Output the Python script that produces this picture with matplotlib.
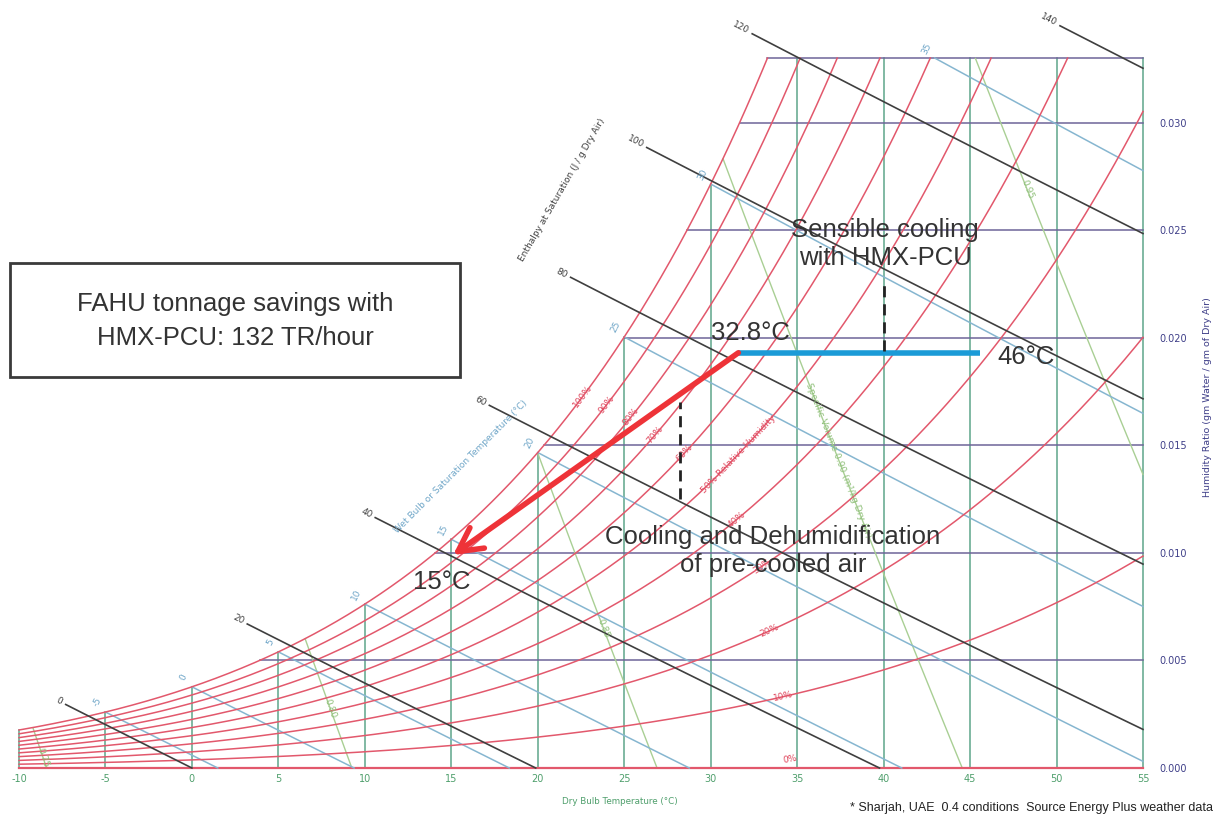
import numpy as np
import matplotlib
matplotlib.use("Agg")
import matplotlib.pyplot as plt
from matplotlib.patches import Rectangle

# ---------------- chart data ----------------
dry_bulb_ticks = [-10, -5, 0, 5, 10, 15, 20, 25, 30, 35, 40, 45, 50, 55]
humidity_ticks = [0.000, 0.005, 0.010, 0.015, 0.020, 0.025, 0.030]
humidity_top = 0.033
rh_levels = [0.1, 0.2, 0.3, 0.4, 0.5, 0.6, 0.7, 0.8, 0.9, 1.0]
rh_labels = ["10%", "20%", "30%", "40%", "50% Relative Humidity",
             "60%", "70%", "80%", "90%", "100%"]
enthalpy_levels = [0, 20, 40, 60, 80, 100, 120, 140]
wet_bulb_levels = [-5, 0, 5, 10, 15, 20, 25, 30, 35]
volume_levels = [0.75, 0.80, 0.85, 0.90, 0.95]
volume_labels = ["0.75", "0.80", "0.85",
                 "Specific Volume 0.90 (m\u00b3/kg Dry Air)", "0.95"]

# process lines
sensible_T = [45.6, 31.6]
sensible_W = [0.0193, 0.0193]
coil_T = [31.6, 15.1]
coil_W = [0.0193, 0.0099]
dash1_T = [40.0, 40.0]
dash1_W = [0.0194, 0.0227]
dash2_T = [28.2, 28.2]
dash2_W = [0.0125, 0.0170]

# ---------------- layout (label placement) ----------------
enthalpy_start_T = [-7.3, 3.2, 10.6, 17.2, 21.9, 26.3, 32.4, 50.2]
rh_label_T = [34.2, 33.4, 33.0, 31.5, 31.6, 28.5, 26.8, 25.4, 24.0, 22.6]
volume_label_T = [-8.6, 8.0, 23.8, 37.4, 48.3]

# ---------------- psychrometrics ----------------
P = 101.325


def psat(T):
    T = np.asarray(T, dtype=float)
    return 0.61094 * np.exp(17.625 * T / (T + 243.04))


def w_rh(T, rh):
    pv = rh * psat(T)
    return 0.622 * pv / (P - pv)


def w_sat(T):
    return w_rh(T, 1.0)


def w_h(T, h):
    return (h - 1.006 * T) / (2501 + 1.86 * T)


def w_wb(T, twb):
    ws = w_sat(twb)
    return ((2501 - 2.326 * twb) * ws - 1.006 * (T - twb)) / (2501 + 1.86 * T - 4.186 * twb)


def w_v(T, v):
    return (v * P / (0.287042 * (T + 273.15)) - 1) / 1.6078


Tgrid = np.linspace(-10, 55, 4000)
Wsat_grid = w_sat(Tgrid)


def t_sat_of_w(W):
    return float(np.interp(W, Wsat_grid, Tgrid))


# ---------------- colours ----------------
C_RH = "#e2586c"
C_DB = "#5ea68a"
C_HUM = "#6e6499"
C_H = "#3f3f3f"
C_WB = "#86b6d0"
C_V = "#a9cf94"
C_TXT = "#333333"

fig = plt.figure(figsize=(12.2, 8.21), dpi=100)
fig.patch.set_facecolor("white")
ax = fig.add_axes([19 / 1220, 53 / 821, 1124 / 1220, 710 / 821])
ax.set_xlim(-10, 55)
ax.set_ylim(0, humidity_top)
for s in ax.spines.values():
    s.set_visible(False)
ax.set_xticks(dry_bulb_ticks)
ax.set_xticklabels([str(t) for t in dry_bulb_ticks])
ax.yaxis.tick_right()
ax.set_yticks(humidity_ticks)
ax.set_yticklabels(["%.3f" % w for w in humidity_ticks])
ax.tick_params(axis="x", length=0, pad=4, labelsize=7, labelcolor="#4f9f6c")
ax.tick_params(axis="y", length=0, pad=12, labelsize=7, labelcolor="#3e3e88")

CH = dict(family="DejaVu Sans")


def angle_of(T, W):
    p = ax.transData.transform(np.column_stack([T, W]))
    d = p[-1] - p[0]
    return np.degrees(np.arctan2(d[1], d[0]))


# dry bulb verticals
for t in dry_bulb_ticks:
    top = min(float(w_sat(t)), humidity_top)
    ax.plot([t, t], [0, top], color=C_DB, lw=1.1, clip_on=False, zorder=2)

# humidity horizontals
for w in humidity_ticks[1:] + [humidity_top]:
    ax.plot([t_sat_of_w(w), 55], [w, w], color=C_HUM, lw=1.1, clip_on=False, zorder=2)
ax.plot([-10, 55], [0, 0], color=C_RH, lw=1.6, clip_on=False, zorder=3)

# specific volume lines
for v, lab, lt in zip(volume_levels, volume_labels, volume_label_T):
    f = w_v(Tgrid, v) - np.minimum(Wsat_grid, humidity_top)
    idx = np.argmax(f <= 0)
    t0 = Tgrid[idx]
    t1 = min(v * P / 0.287042 - 273.15, 55)
    T = np.linspace(t0, t1, 100)
    ax.plot(T, w_v(T, v), color=C_V, lw=1.0, clip_on=False, zorder=2)
    ang = angle_of([lt - 0.3, lt + 0.3], [w_v(lt - 0.3, v), w_v(lt + 0.3, v)])
    ax.text(lt, w_v(lt, v), lab, color="#8fc07a", fontsize=6.5, rotation=ang,
            rotation_mode="anchor", ha="center", va="center", zorder=6, **CH)

# wet bulb lines
for twb in wet_bulb_levels:
    if w_sat(twb) <= humidity_top:
        t0 = twb
    else:
        wl = w_wb(Tgrid, twb)
        t0 = float(np.interp(-humidity_top, -wl, Tgrid))
    t1 = min(twb + (2501 - 2.326 * twb) * w_sat(twb) / 1.006, 55)
    T = np.linspace(t0, t1, 100)
    ax.plot(T, w_wb(T, twb), color=C_WB, lw=1.1, clip_on=False, zorder=3)
    ax.annotate(str(twb), xy=(t0, w_wb(t0, twb)), xytext=(-6, 7),
                textcoords="offset points", color="#6fa6c8", fontsize=6.5,
                rotation=63, ha="center", va="center", zorder=6,
                annotation_clip=False, **CH)

# relative humidity curves
for rh, lab, lt in zip(rh_levels, rh_labels, rh_label_T):
    wg = w_rh(Tgrid, rh)
    tend = float(np.interp(humidity_top, wg, Tgrid)) if wg.max() > humidity_top else 55
    T = np.linspace(-10, tend, 800)
    ax.plot(T, w_rh(T, rh), color=C_RH, lw=1.1, clip_on=False, zorder=4)
    ang = angle_of([lt - 0.3, lt + 0.3], [w_rh(lt - 0.3, rh), w_rh(lt + 0.3, rh)])
    ax.text(lt, w_rh(lt, rh), lab, color="#e0485e", fontsize=6.5, rotation=ang,
            rotation_mode="anchor", ha="center", va="center", zorder=6, **CH)
ax.text(34.6, 0.0004, "0%", color="#e0485e", fontsize=6.5, rotation=10,
        ha="center", va="center", zorder=6, **CH)

# enthalpy lines
for h, t0 in zip(enthalpy_levels, enthalpy_start_T):
    t1 = min(h / 1.006, 55)
    T = np.linspace(t0, t1, 50)
    ax.plot(T, w_h(T, h), color=C_H, lw=1.2, clip_on=False, zorder=5)
    ang = angle_of([t0, t1], [w_h(t0, h), w_h(t1, h)])
    ax.annotate(str(h), xy=(t0, w_h(t0, h)),
                xytext=(-3 * np.cos(np.radians(ang)), -3 * np.sin(np.radians(ang))),
                textcoords="offset points", color=C_H, fontsize=6.5, rotation=ang,
                rotation_mode="anchor", ha="right", va="center", zorder=6,
                annotation_clip=False, **CH)

# chart captions


def fxy(px, py):
    return px / 1220, 1 - py / 821


fig.text(*fxy(461, 467), "Wet Bulb or Saturation Temperature (\u00b0C)", color="#6fa6c8",
         fontsize=6.5, rotation=45, ha="center", va="center", **CH)
fig.text(*fxy(562, 190), "Enthalpy at Saturation (J / g Dry Air)", color=C_H,
         fontsize=6.5, rotation=60, ha="center", va="center", **CH)
fig.text(*fxy(620, 801), "Dry Bulb Temperature (\u00b0C)", color="#4f9f6c",
         fontsize=6.3, ha="center", va="center", **CH)
fig.text(*fxy(1208, 397), "Humidity Ratio (gm Water / gm of Dry Air)", color="#3e3e88",
         fontsize=6.8, rotation=90, ha="center", va="center", **CH)

# process overlay
ax.plot(sensible_T, sensible_W, color="#1b9bd7", lw=4, solid_capstyle="butt",
        clip_on=False, zorder=8)
ax.annotate("", xy=(coil_T[1], coil_W[1]), xytext=(coil_T[0], coil_W[0]),
            arrowprops=dict(arrowstyle="->,head_length=0.85,head_width=0.45",
                            color="#ee3338", lw=4, mutation_scale=20,
                            shrinkA=0, shrinkB=0),
            zorder=9)
ax.plot(dash1_T, dash1_W, color="#222222", lw=2, ls=(0, (4, 2.5)), zorder=8)
ax.plot(dash2_T, dash2_W, color="#222222", lw=2, ls=(0, (4, 2.5)), zorder=8)

AF = dict(family=["Liberation Sans", "DejaVu Sans"], color=C_TXT)
fig.text(*fxy(885, 244), "Sensible cooling\nwith HMX-PCU", fontsize=18.5,
         ha="center", va="center", linespacing=1.2, **AF)
fig.text(*fxy(773, 551), "Cooling and Dehumidification\nof pre-cooled air", fontsize=18.5,
         ha="center", va="center", linespacing=1.2, **AF)
fig.text(*fxy(750, 333), "32.8\u00b0C", fontsize=18.5, ha="center", va="center", **AF)
fig.text(*fxy(1026, 357), "46\u00b0C", fontsize=18.5, ha="center", va="center", **AF)
fig.text(*fxy(442, 582), "15\u00b0C", fontsize=18.5, ha="center", va="center", **AF)

fig.patches.append(Rectangle(fxy(10, 377), 450 / 1220, 114 / 821, transform=fig.transFigure,
                             fill=True, facecolor="white", edgecolor="#3a3a3a", lw=2, zorder=10))
fig.text(*fxy(235, 321), "FAHU tonnage savings with\nHMX-PCU: 132 TR/hour", fontsize=18.5,
         ha="center", va="center", linespacing=1.5, zorder=11, **AF)

fig.text(*fxy(1213, 808), "* Sharjah, UAE  0.4 conditions  Source Energy Plus weather data",
         fontsize=9, ha="right", va="center", family=["Liberation Sans", "DejaVu Sans"], color="#222222")

fig.savefig("out.png", dpi=100, facecolor="white")
